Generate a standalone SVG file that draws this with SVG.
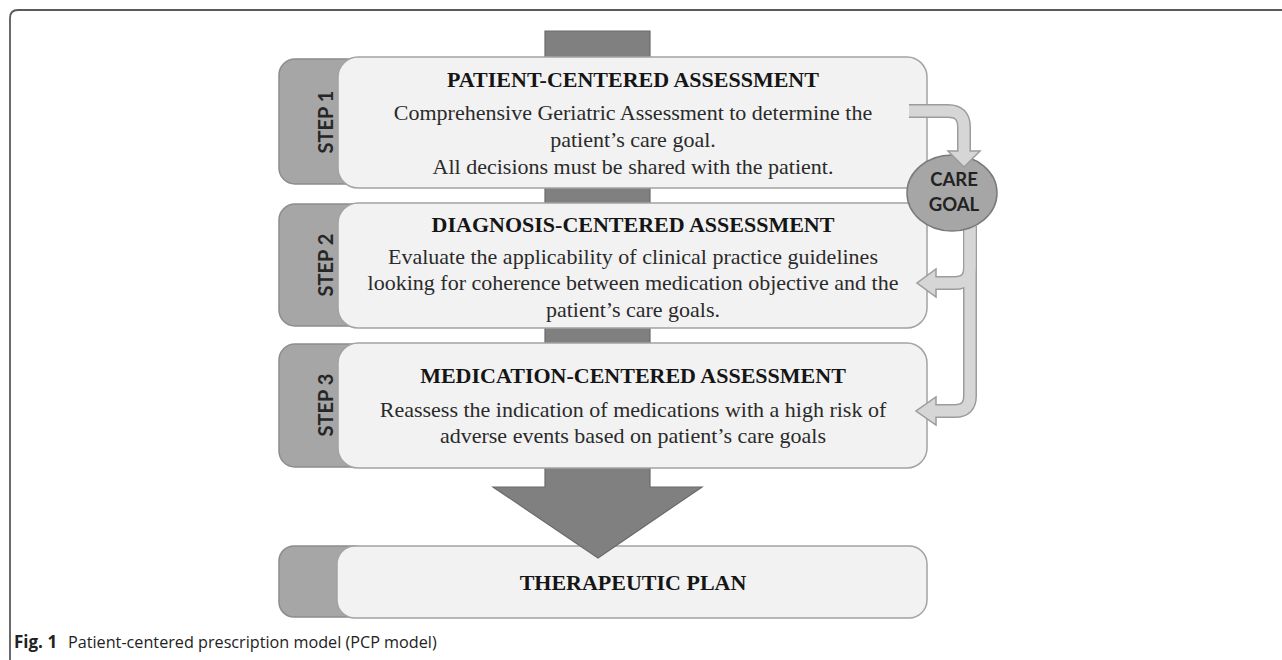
<svg xmlns="http://www.w3.org/2000/svg" width="1282" height="660" viewBox="0 0 1282 660">
<style>
.frame{fill:none;stroke:#5a5a5a;stroke-width:1.8}
.tab{fill:#a6a6a6;stroke:#8c8c8c;stroke-width:1.5}
.card{fill:#f2f2f2;stroke:#a3a3a3;stroke-width:1.5}
.bar{fill:#808080;stroke:#6a6a6a;stroke-width:1.2}
.title{font-family:"Liberation Serif","Times New Roman",serif;font-weight:bold;font-size:22px;fill:#151515;text-anchor:middle}
.body{font-family:"Liberation Serif","Times New Roman",serif;font-size:22px;fill:#2a2a2a;text-anchor:middle}
.step{font-family:Lato,"Open Sans",sans-serif;font-weight:bold;font-size:20px;fill:#262626;text-anchor:middle}
.goal{font-family:Lato,"Open Sans",sans-serif;font-weight:bold;font-size:18.5px;fill:#222;text-anchor:middle}
.ao{fill:none;stroke:#9c9c9c;stroke-width:14}
.ai{fill:none;stroke:#d6d6d6;stroke-width:11}
.ah{fill:#d6d6d6;stroke:#9c9c9c;stroke-width:1.5;stroke-linejoin:miter}
.cap{font-family:"Open Sans","Noto Sans",sans-serif;font-size:16.2px;fill:#222}
</style>
<rect width="1282" height="660" fill="#ffffff"/>
<path class="frame" d="M10 660 V18 Q10 10 18 10 H1282"/>

<g id="plan">
<rect class="tab" x="279" y="546" width="90" height="71" rx="15"/>
<rect class="card" x="337" y="546" width="590" height="72" rx="18"/>
<text class="title" x="633" y="590">THERAPEUTIC PLAN</text>
</g>

<g id="flow-arrow">
<path class="bar" d="M545 31 H650 V487 H702 L598 558 L493 487 H545 Z"/>
</g>

<g id="step1">
<rect class="tab" x="279" y="59" width="90" height="125" rx="16"/>
<rect class="card" x="338" y="57" width="589" height="131" rx="20"/>
<text class="step" transform="translate(333,122) rotate(-90)">STEP 1</text>
<text class="title" x="633" y="87">PATIENT-CENTERED ASSESSMENT</text>
<text class="body" x="633" y="120">Comprehensive Geriatric Assessment to determine the</text>
<text class="body" x="633" y="147">patient’s care goal.</text>
<text class="body" x="633" y="174">All decisions must be shared with the patient.</text>
</g>

<g id="step2">
<rect class="tab" x="279" y="204" width="90" height="122" rx="16"/>
<rect class="card" x="338" y="203" width="589" height="125" rx="20"/>
<text class="step" transform="translate(333,265) rotate(-90)">STEP 2</text>
<text class="title" x="633" y="232">DIAGNOSIS-CENTERED ASSESSMENT</text>
<text class="body" x="633" y="264">Evaluate the applicability of clinical practice guidelines</text>
<text class="body" x="633" y="290">looking for coherence between medication objective and the</text>
<text class="body" x="633" y="317">patient’s care goals.</text>
</g>

<g id="step3">
<rect class="tab" x="279" y="344" width="90" height="123" rx="16"/>
<rect class="card" x="338" y="343" width="589" height="125" rx="20"/>
<text class="step" transform="translate(333,405) rotate(-90)">STEP 3</text>
<text class="title" x="633" y="383">MEDICATION-CENTERED ASSESSMENT</text>
<text class="body" x="633" y="417">Reassess the indication of medications with a high risk of</text>
<text class="body" x="633" y="443">adverse events based on patient’s care goals</text>
</g>

<g id="connectors">
<path class="ao" d="M970 226 V268 Q970 283 955 283 H936"/>
<path class="ao" d="M970 226 V396 Q970 411 955 411 H936"/>
<polygon class="ah" points="936,269 936,297 917,283"/>
<polygon class="ah" points="936,397 936,425 916,411"/>
<path class="ai" d="M970 226 V268 Q970 283 955 283 H933"/>
<path class="ai" d="M970 226 V396 Q970 411 955 411 H933"/>
</g>

<g id="care-goal">
<ellipse cx="952" cy="193" rx="45" ry="38" fill="#a6a6a6" stroke="#7a7a7a" stroke-width="1.5"/>
<text class="goal" x="954" y="186">CARE</text>
<text class="goal" x="954" y="211">GOAL</text>
</g>

<g id="connector-top">
<path class="ao" d="M909 111 H948 Q964 111 964 127 V152"/>
<polygon class="ah" points="948,151 980,151 964,167"/>
<path class="ai" d="M909 111 H948 Q964 111 964 127 V154"/>
</g>

<g id="caption">
<text class="cap" x="14" y="648"><tspan font-weight="bold" font-size="17">Fig. 1</tspan><tspan x="68">Patient-centered prescription model (PCP model)</tspan></text>
</g>
</svg>
